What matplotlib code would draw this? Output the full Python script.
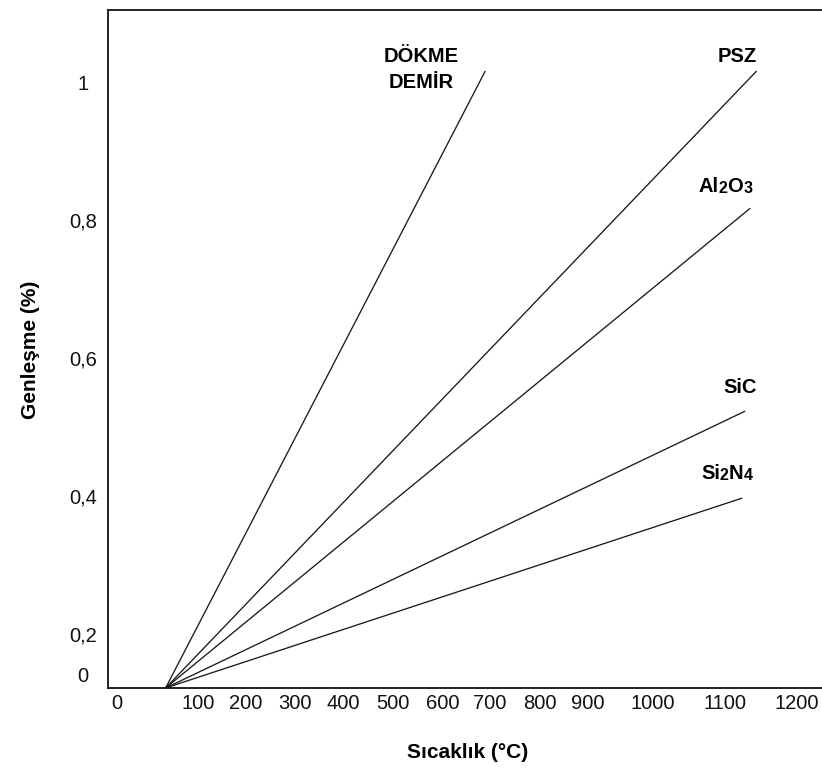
import re
import numpy as np
import matplotlib
matplotlib.use("Agg")
import matplotlib.pyplot as plt
from matplotlib.transforms import ScaledTranslation

# ---------------- data ----------------
materials = ["DÖKME\nDEMİR", "PSZ", "Al2O3", "SiC", "Si2N4"]
start_temp = [60, 60, 60, 60, 60]
start_exp = [0, 0, 0, 0, 0]
end_temp = [690, 1144, 1135, 1128, 1124]
end_exp = [1.016, 1.016, 0.817, 0.523, 0.397]

xtick_values = [0, 100, 200, 300, 400, 500, 600, 700, 800, 900, 1000, 1100, 1200]
xtick_labels = [str(v) for v in xtick_values]
ytick_values = [0, 0.2, 0.4, 0.6, 0.8, 1.0]
ytick_labels = ["0", "0,2", "0,4", "0,6", "0,8", "1"]
xlabel = "Sıcaklık (°C)"
ylabel = "Genleşme (%)"

# ---------------- layout ----------------
W, H, DPI = 822, 780, 100
AX_L, AX_R, AX_T, AX_B = 108, 822, 10, 688          # axes box in pixels
# the hand-drawn axis is not uniform: pixel where each tick sits
x_anchor_px = [117, 198, 246, 295, 343, 393, 443, 490, 540, 588, 653, 725, 797]
y_anchor_px = [688, 634, 496, 358, 220, 82]
label_offsets = [(-64, 9), (0, 9), (2, 15), (12, 18), (10, 18)]   # pixels from line end
second_line_dy = -26

plt.rcParams['font.family'] = ['Liberation Sans', 'DejaVu Sans']


def piecewise(vals, pos):
    vals = np.asarray(vals, float)
    pos = np.asarray(pos, float)

    def _map(v, a, b):
        v = np.asarray(v, float)
        out = np.interp(v, a, b)
        out = np.where(v < a[0], b[0] + (v - a[0]) * (b[1] - b[0]) / (a[1] - a[0]), out)
        out = np.where(v > a[-1], b[-1] + (v - a[-1]) * (b[-1] - b[-2]) / (a[-1] - a[-2]), out)
        return out

    return (lambda v: _map(v, vals, pos)), (lambda p: _map(p, pos, vals))


xf, xi = piecewise(xtick_values, [p - AX_L for p in x_anchor_px])
yf, yi = piecewise(ytick_values, [AX_B - p for p in y_anchor_px])

fig = plt.figure(figsize=(W / DPI, H / DPI), dpi=DPI)
ax = fig.add_axes([AX_L / W, (H - AX_B) / H, (AX_R - AX_L) / W, (AX_B - AX_T) / H])
ax.set_xscale('function', functions=(xf, xi))
ax.set_yscale('function', functions=(yf, yi))
ax.set_xlim(float(xi(0)), float(xi(AX_R - AX_L)))
ax.set_ylim(float(yi(0)), float(yi(AX_B - AX_T)))

for i, name in enumerate(materials):
    ax.plot([start_temp[i], end_temp[i]], [start_exp[i], end_exp[i]],
            color='#1a1a1a', lw=0.95, solid_capstyle='butt')

BIG, SMALL = 14.5, 11.5


def chain_label(xy, text, offset):
    segs = re.findall(r'\d+|\D+', text)
    prev = None
    for s in reversed(segs):
        size = SMALL if s.isdigit() else BIG
        if prev is None:
            prev = ax.annotate(s, xy=xy, xycoords='data', xytext=offset,
                               textcoords='offset pixels', ha='right', va='baseline',
                               fontsize=size, fontweight='bold', annotation_clip=False)
        else:
            prev = ax.annotate(s, xy=(0, 0), xycoords=prev, ha='right', va='bottom',
                               fontsize=size, fontweight='bold', annotation_clip=False)


for i, name in enumerate(materials):
    end = (end_temp[i], end_exp[i])
    if "\n" in name:
        for k, line in enumerate(name.split("\n")):
            ax.annotate(line, xy=end, xytext=(label_offsets[i][0], label_offsets[i][1] + k * second_line_dy),
                        textcoords='offset pixels', ha='center', va='baseline',
                        fontsize=BIG, fontweight='bold', annotation_clip=False)
    else:
        chain_label(end, name, label_offsets[i])

ax.set_xticks(xtick_values, xtick_labels)
ax.set_yticks(ytick_values, ytick_labels, ha='center')
ax.minorticks_off()
ax.tick_params(axis='x', length=0, pad=4, labelsize=14.5, labelcolor='#111')
ax.tick_params(axis='y', length=0, pad=18, labelsize=14.5, labelcolor='#111')

for side in ('left', 'bottom', 'top'):
    ax.spines[side].set_linewidth(1.3)
    ax.spines[side].set_color('#111')
ax.spines['right'].set_visible(False)

ax.set_xlabel(xlabel, fontsize=15, fontweight='bold', va='center')
ax.xaxis.set_label_coords((468 - AX_L) / (AX_R - AX_L), (AX_B - 752) / (AX_B - AX_T))
ax.set_ylabel(ylabel, fontsize=15, fontweight='bold', va='center')
ax.yaxis.set_label_coords((30 - AX_L) / (AX_R - AX_L), (AX_B - 350) / (AX_B - AX_T))

fig.canvas.draw()
# the "0" on the y axis sits a little above the baseline in the original
lab0 = ax.yaxis.get_major_ticks()[0].label1
lab0.set_transform(lab0.get_transform() + ScaledTranslation(0, 13 / DPI, fig.dpi_scale_trans))

fig.savefig("out.png", dpi=DPI)
